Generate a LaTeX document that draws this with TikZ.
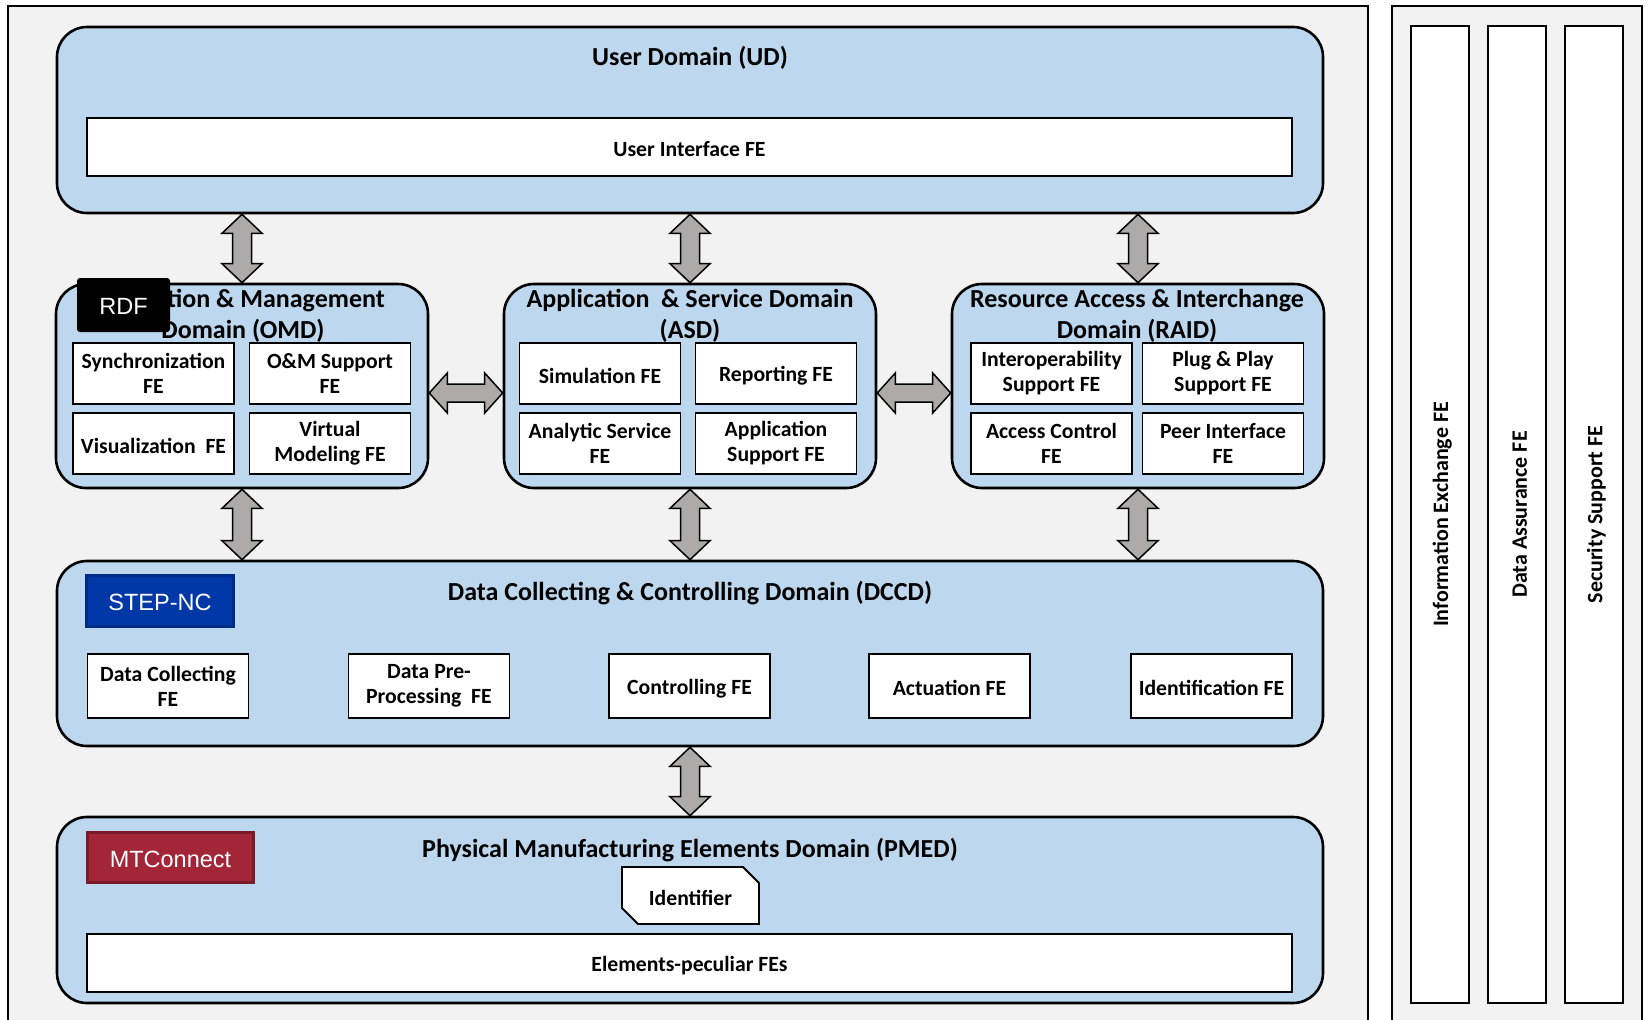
\documentclass[tikz,border=0pt]{standalone}
\usepackage{fontspec}
\setmainfont{Carlito}
\newfontfamily\arialf{Liberation Sans}
\usetikzlibrary{calc,shapes.misc}
\definecolor{dom}{HTML}{BDD7EE}
\definecolor{panel}{HTML}{F2F2F2}
\definecolor{arr}{HTML}{AEAAAA}
\definecolor{stepblue}{HTML}{0038A8}
\definecolor{stepdark}{HTML}{002B86}
\definecolor{mtred}{HTML}{A32638}
\definecolor{mtdark}{HTML}{7A1A29}
\newcommand\fefont{\bfseries\fontsize{21.7}{25}\selectfont}
\newcommand\sidefont{\bfseries\fontsize{22}{25}\selectfont}
\newcommand\ttlfont{\bfseries\fontsize{26}{31}\selectfont}
\newcommand\tagfont{\arialf\fontsize{23.5}{28}\selectfont}
\newcommand\vconn[2]{%
  \draw[conn] let \p1=#1, \p2=#2 in
  (\x1,\y1) -- (\x1+20pt,\y1-19pt) -- (\x1+9.5pt,\y1-19pt) -- (\x1+9.5pt,\y2+19pt)
  -- (\x1+20pt,\y2+19pt) -- (\x1,\y2) -- (\x1-20pt,\y2+19pt) -- (\x1-9.5pt,\y2+19pt)
  -- (\x1-9.5pt,\y1-19pt) -- (\x1-20pt,\y1-19pt) -- cycle;}
\newcommand\hconn[2]{%
  \draw[conn] let \p1=#1, \p2=#2 in
  (\x1,\y1) -- (\x1+18pt,\y1+20pt) -- (\x1+18pt,\y1+9pt) -- (\x2-18pt,\y1+9pt)
  -- (\x2-18pt,\y1+20pt) -- (\x2,\y1) -- (\x2-18pt,\y1-20pt) -- (\x2-18pt,\y1-9pt)
  -- (\x1+18pt,\y1-9pt) -- (\x1+18pt,\y1-20pt) -- cycle;}
\begin{document}
\begin{tikzpicture}[x=1pt,y=-1pt,
 dombox/.style={draw, line width=2.6pt, fill=dom, rounded corners=30pt, inner sep=0pt},
 bigdom/.style={dombox, minimum width=1266pt, minimum height=186pt},
 middom/.style={dombox, minimum width=372pt, minimum height=204pt},
 fe/.style={draw, line width=1.8pt, fill=white, align=center, inner sep=0pt, font=\fefont, minimum width=161pt, minimum height=61pt, execute at begin node={\rule{0pt}{20pt}}},
 widefe/.style={fe, minimum width=1205pt, minimum height=58pt},
 ttl/.style={align=center, inner sep=0pt, font=\ttlfont},
 badge/.style={text=white, font=\tagfont, inner sep=0pt, line width=3pt, execute at begin node={\rule{0pt}{19.5pt}}},
 sidebar/.style={draw, line width=1.8pt, fill=white, inner sep=0pt, font=\sidefont, minimum width=977pt, minimum height=58pt, rotate=90, execute at begin node={\rule{0pt}{20pt}}},
 conn/.style={draw, line width=1.5pt, fill=arr, line join=miter}
]
\useasboundingbox (0,0) rectangle (1652,1020);
\fill[white] (0,0) rectangle (1652,1020);
\begin{scope}
\clip (0,0) rectangle (1652,1020);
\draw[line width=1.8pt, fill=panel] (8,6) rectangle (1368,1030);
\draw[line width=1.8pt, fill=panel] (1392,6) rectangle (1642,1030);
\end{scope}

% User domain
\node[bigdom] (ud) at (690,120) {};
\node[ttl] (udt) at (690,58) {User Domain (UD)};
\node[widefe] (ui) at (689.5,147) {User Interface FE};

% middle domains
\node[middom] (omd) at (242,386) {};
\node[middom] (asd) at (690,386) {};
\node[middom] (raid) at (1138,386) {};

\node[ttl] (omdt) at (243,316) {Operation \& Management\\Domain (OMD)};
\node[fe] (sync) at (153.5,373.5) {Synchronization\\FE};
\node[fe] (om) at (330,373.5) {O\&M Support\\FE};
\node[fe] (vis) at (153.5,443.5) {Visualization~ FE};
\node[fe] (vm) at (330,443.5) {Virtual\\Modeling FE};
\node[badge, fill=black, rounded corners=3pt, minimum width=93pt, minimum height=54pt] (rdf) at (123.5,305) {RDF};

\node[ttl] (asdt) at (690,316) {Application~ \& Service Domain\\(ASD)};
\node[fe] (sim) at (600,373.5) {Simulation FE};
\node[fe] (rep) at (776,373.5) {Reporting FE};
\node[fe] (ana) at (600,443.5) {Analytic Service\\FE};
\node[fe] (aps) at (776,443.5) {Application\\Support FE};

\node[ttl] (raidt) at (1137,316) {Resource Access \& Interchange\\Domain (RAID)};
\node[fe] (iop) at (1051.5,373.5) {Interoperability\\Support FE};
\node[fe] (pnp) at (1223,373.5) {Plug \& Play\\Support FE};
\node[fe] (acc) at (1051.5,443.5) {Access Control\\FE};
\node[fe] (peer) at (1223,443.5) {Peer Interface\\FE};

% DCCD
\node[bigdom, minimum height=185pt] (dccd) at (690,653.5) {};
\node[ttl] (dccdt) at (690,593) {Data Collecting \& Controlling Domain (DCCD)};
\node[badge, fill=stepblue, draw=stepdark, minimum width=147pt, minimum height=51pt] (step) at (160,601) {STEP-NC};
\node[fe, minimum height=64pt] (dc) at (168,686) {Data Collecting\\FE};
\node[fe, minimum height=64pt] (dpp) at (429,686) {Data Pre-\\Processing~ FE};
\node[fe, minimum height=64pt] (ctl) at (689.5,686) {Controlling FE};
\node[fe, minimum height=64pt] (act) at (949.5,686) {Actuation FE};
\node[fe, minimum height=64pt] (idn) at (1211.5,686) {Identification FE};

% PMED
\node[bigdom] (pmed) at (690,910) {};
\node[ttl] (pmedt) at (690,850) {Physical Manufacturing Elements Domain (PMED)};
\node[badge, fill=mtred, draw=mtdark, minimum width=166pt, minimum height=50pt] (mtc) at (170.5,857.5) {MTConnect};
\node[chamfered rectangle, chamfered rectangle corners={north east,south west}, chamfered rectangle sep=8pt, draw, line width=1.8pt, fill=white, font=\fefont, minimum width=137pt, minimum height=57pt, inner sep=0pt, execute at begin node={\rule{0pt}{20pt}}] (idf) at (690.5,895.5) {Identifier};
\node[widefe] (elem) at (689.5,963) {Elements-peculiar FEs};

% side bars
\node[sidebar] (ie) at (1440,514.5) {Information Exchange FE};
\node[sidebar] (da) at (1517,514.5) {Data Assurance FE};
\node[sidebar] (ss) at (1594,514.5) {Security Support FE};

% connectors
\vconn{(omd.north |- ud.south)}{(omd.north)}
\vconn{(asd.north |- ud.south)}{(asd.north)}
\vconn{(raid.north |- ud.south)}{(raid.north)}
\vconn{(omd.south)}{(omd.south |- dccd.north)}
\vconn{(asd.south)}{(asd.south |- dccd.north)}
\vconn{(raid.south)}{(raid.south |- dccd.north)}
\vconn{(dccd.south)}{(pmed.north)}
\hconn{([yshift=-7pt]omd.east)}{([yshift=-7pt]asd.west)}
\hconn{([yshift=-7pt]asd.east)}{([yshift=-7pt]raid.west)}
\end{tikzpicture}
\end{document}
